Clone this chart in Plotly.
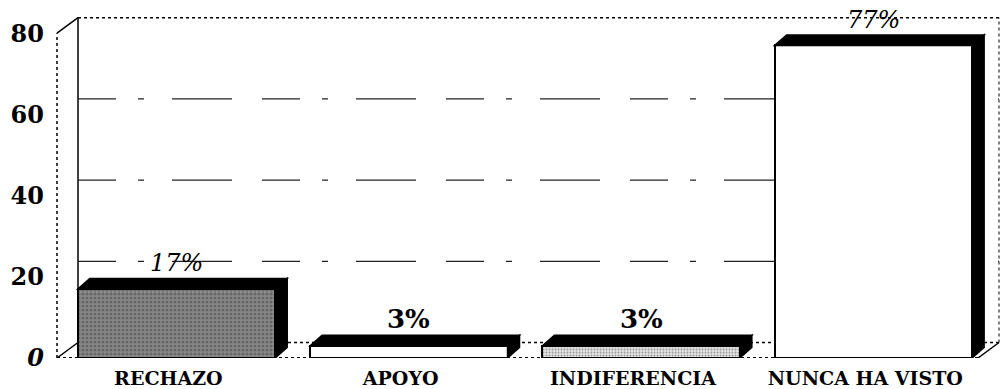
import plotly.graph_objects as go

# ---- data ----
categories = ["RECHAZO", "APOYO", "INDIFERENCIA", "NUNCA HA VISTO"]
values = [17, 3, 3, 77]
value_labels = ["17%", "3%", "3%", "77%"]
y_tickvals = [0, 20, 40, 60, 80]
y_ticktext = ["<i>0</i>", "20", "40", "60", "80"]

# ---- geometry (pixel-based scale) ----
W, H = 1003, 389
PPU_X = 232.3          # px per category
PPU_Y = 4.06           # px per value unit
BAR0_PX = 176.5        # px center of first bar
L_PX, R_PX, T_PX, B_PX = 53, 1002, 12, 358

xr0 = -(BAR0_PX - L_PX) / PPU_X
xr1 = xr0 + (R_PX - L_PX) / PPU_X
yr1 = (B_PX - T_PX) / PPU_Y

x_front = -(BAR0_PX - 57) / PPU_X      # front vertical axis
x_front_r = (978 - BAR0_PX) / PPU_X    # front right corner of floor
dxw, dyw = 21 / PPU_X, 15.5 / PPU_Y    # wall depth
dxb, dyb = 12 / PPU_X, 10.5 / PPU_Y    # bar depth
bw = 0.85
ymax = y_tickvals[-1]

SERIF = "DejaVu Serif"

fills = ["#8a8a8a", "white", "#e4e4e4", "white"]
patterns = [
    dict(shape=".", fgcolor="#1a1a1a", bgcolor="#a8a8a8", size=4, solidity=0.5),
    dict(shape=""),
    dict(shape=".", fgcolor="#555", bgcolor="#f2f2f2", size=3, solidity=0.3),
    dict(shape=""),
]

xs = list(range(len(categories)))

fig = go.Figure()
fig.add_trace(go.Bar(
    x=xs, y=values, width=bw,
    marker=dict(color=fills, line=dict(color="black", width=2), pattern=dict(
        shape=[p.get("shape", "") for p in patterns],
        fgcolor=[p.get("fgcolor", "black") for p in patterns],
        bgcolor=[p.get("bgcolor", "white") for p in patterns],
        size=[p.get("size", 8) for p in patterns],
        solidity=[p.get("solidity", 0.3) for p in patterns],
        fillmode="overlay",
    )),
    hoverinfo="skip", showlegend=False,
))

shapes = []
dot = dict(color="black", width=1.5, dash="dot")
solid = dict(color="black", width=1.5)
# floor & walls
shapes += [
    dict(type="line", x0=x_front, y0=0, x1=x_front, y1=ymax, line=dot),
    dict(type="line", x0=x_front, y0=ymax, x1=x_front + dxw, y1=ymax + dyw, line=solid),
    dict(type="line", x0=x_front, y0=0, x1=x_front + dxw, y1=dyw, line=solid),
    dict(type="line", x0=x_front + dxw, y0=dyw, x1=x_front + dxw, y1=ymax + dyw, line=solid),
    dict(type="line", x0=x_front + dxw, y0=ymax + dyw, x1=x_front_r + dxw, y1=ymax + dyw, line=dot),
    dict(type="line", x0=x_front_r + dxw, y0=dyw, x1=x_front_r + dxw, y1=ymax + dyw, line=dict(color="black", width=1, dash="dot")),
    dict(type="line", x0=x_front, y0=0, x1=x_front_r, y1=0, line=dict(color="black", width=2, dash="dot")),
    dict(type="line", x0=x_front_r, y0=0, x1=x_front_r + dxw, y1=dyw, line=solid),
    dict(type="line", x0=x_front + dxw, y0=dyw, x1=x_front_r + dxw, y1=dyw, line=dot),
]
for v in y_tickvals[1:-1]:
    shapes.append(dict(type="line", layer="below", x0=x_front + dxw, y0=v + dyw, x1=x_front_r + dxw, y1=v + dyw,
                       line=dict(color="#222", width=1.3, dash="38px,22px,6px,28px,60px,30px")))
for s in shapes:
    s.setdefault("layer", "below")
    s["xref"] = "x"
    s["yref"] = "y"

# 3D bar faces
for i, v in zip(xs, values):
    x0, x1 = i - bw / 2, i + bw / 2
    top = f"M{x0},{v} L{x0 + dxb},{v + dyb} L{x1 + dxb},{v + dyb} L{x1},{v} Z"
    side = f"M{x1},0 L{x1 + dxb},{dyb} L{x1 + dxb},{v + dyb} L{x1},{v} Z"
    for p in (top, side):
        shapes.append(dict(type="path", path=p, xref="x", yref="y", layer="above",
                           fillcolor="black", line=dict(color="black", width=1.5)))

annotations = []
for i, (v, t) in enumerate(zip(values, value_labels)):
    italic = v > 10
    annotations.append(dict(
        x=i, y=v + dyb, xref="x", yref="y", text=t, showarrow=False,
        yanchor="bottom", xanchor="center", yshift=-1,
        font=dict(family=SERIF, size=24 if italic else 26, color="black",
                  weight="normal" if italic else "bold", style="italic" if italic else "normal"),
    ))

fig.update_layout(
    width=W, height=H,
    margin=dict(l=L_PX, r=W - R_PX, t=T_PX, b=H - B_PX),
    paper_bgcolor="white", plot_bgcolor="white",
    shapes=shapes, annotations=annotations,
    bargap=0,
    xaxis=dict(range=[xr0, xr1], tickvals=[i - 0.035 for i in xs], ticktext=categories,
               showgrid=False, zeroline=False, showline=False, ticks="",
               tickfont=dict(family=SERIF, size=19, color="black", weight="bold"),
               ticklabelstandoff=7),
    yaxis=dict(range=[0, yr1], tickvals=y_tickvals, ticktext=y_ticktext,
               showgrid=False, zeroline=False, showline=False, ticks="",
               tickfont=dict(family=SERIF, size=24, color="black", weight="bold"),
               ticklabelstandoff=8),
)

fig.write_html("out.html")
